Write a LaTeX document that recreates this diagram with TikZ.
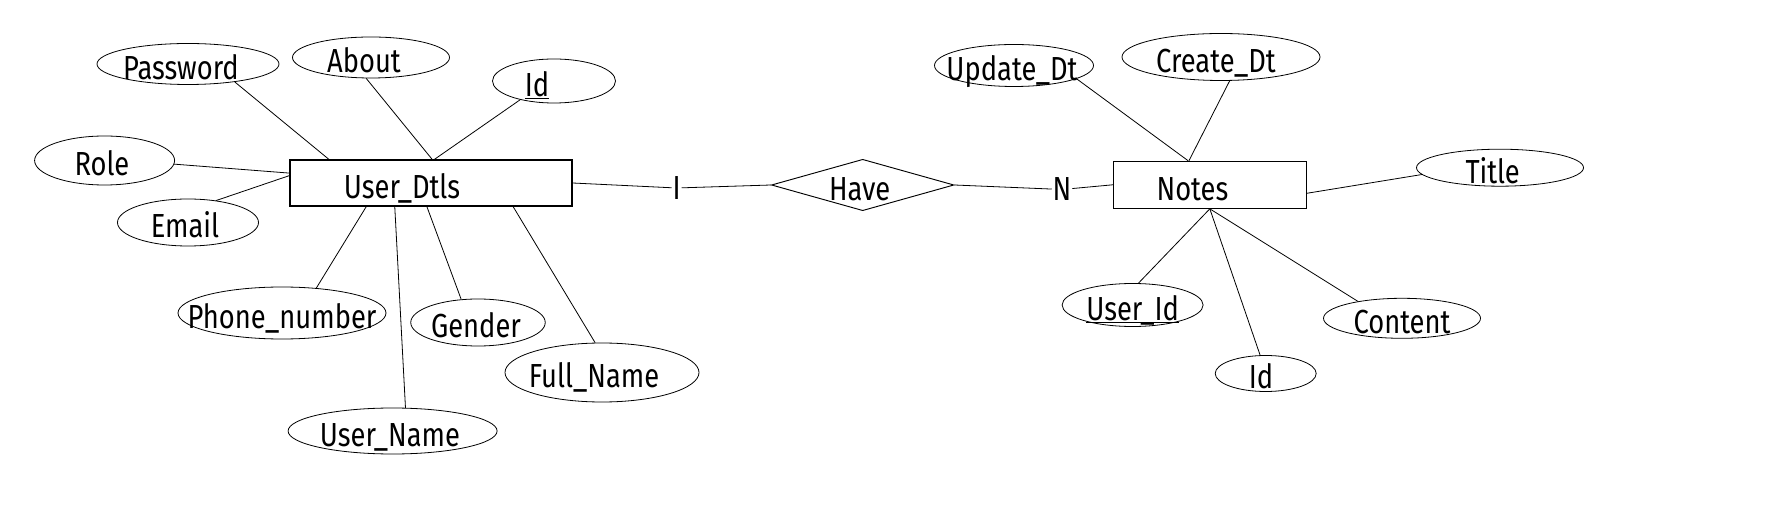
\documentclass[tikz,border=0pt]{standalone}
\usepackage{fontspec}
\setmainfont{Fira Sans}[FakeStretch=0.82]
\usetikzlibrary{shapes.geometric}
\newcommand\tx[2][0]{\makebox[0pt]{\hspace*{#1pt}\raisebox{-3pt}{#2}}}
\newcommand\ulin[1]{\setbox0\hbox{#1}\rlap{\rule[-2pt]{\wd0}{0.7pt}}\box0}
\begin{document}
\begin{tikzpicture}[x=0.75pt,y=-0.75pt,
 every node/.style={font=\fontsize{25}{30}\selectfont, text height=17pt, text depth=0pt},
 att/.style 2 args={ellipse, draw, line width=0.6pt, inner sep=0pt, minimum width=#1*0.75pt, minimum height=#2*0.75pt},
 ent/.style 2 args={rectangle, draw, line width=0.8pt, inner sep=0pt, minimum width=#1*0.75pt, minimum height=#2*0.75pt},
 rel/.style 2 args={diamond, draw, line width=0.7pt, inner sep=0pt, minimum width=#1*0.75pt, minimum height=#2*0.75pt},
 card/.style={inner sep=0.5pt},
 link/.style={line width=0.6pt}]
\path[use as bounding box] (0,0) rectangle (1776,530);
% User entity and attributes
\node[ent={282}{46}] (ud) at (431,183) {\tx[-43.5]{User\_Dtls}};
\node[att={182}{41}] (pw) at (188,64) {\tx[-10.5]{Password}};
\node[att={157}{41}] (ab) at (371,57.5) {\tx[-10.5]{About}};
\node[att={123}{44}] (uid) at (554,81) {\tx[-25.5]{\ulin{Id}}};
\node[att={140}{49}] (ro) at (104.6,160.5) {\tx[-4]{Role}};
\node[att={141}{47}] (em) at (188,222.5) {\tx[-4.5]{Email}};
\node[att={208}{52}] (ph) at (282,313) {\tx{Phone\_number}};
\node[att={134.5}{47}] (ge) at (478,322.5) {\tx[-3]{Gender}};
\node[att={194}{59}] (fn) at (602,372.5) {\tx[-12]{Full\_Name}};
\node[att={209}{46}] (un) at (392.6,431) {\tx[-4]{User\_Name}};
% relationship
\node[card] (one) at (676.6,188) {I};
\node[rel={182.5}{51.4}] (have) at (862.7,185) {\tx[-4.5]{Have}};
\node[card] (many) at (1062,189.5) {N};
% Notes entity and attributes
\node[ent={193}{47}] (nt) at (1209.8,184.8) {\tx[-26]{Notes}};
\node[att={159}{42}] (up) at (1014,65.5) {\tx[-3]{Update\_Dt}};
\node[att={198}{47}] (cr) at (1221,57) {\tx[-7.5]{Create\_Dt}};
\node[att={167}{37}] (ti) at (1500,167.7) {\tx[-11]{Title}};
\node[att={141}{43}] (nuid) at (1132.6,305) {\tx{\ulin{User\_Id}}};
\node[att={101}{36}] (nid) at (1265.7,373.5) {\tx[-7]{Id}};
\node[att={157}{40}] (co) at (1402,318.3) {\tx{Content}};
% connectors
\draw[link] (pw.339.4) -- (ud.167.2);
\draw[link] (ab.257.6) -- (ud.87.6);
\draw[link] (uid.209.7) -- (ud.82.9);
\draw[link] (ro.357.9) -- (ud.176.3);
\draw[link] (em.38) -- (ud.177.1);
\draw[link] (ph.36.7) -- (ud.200.9);
\draw[link] (un.61.7) -- (ud.213.0);
\draw[link] (ge.126.3) -- (ud.260.1);
\draw[link] (fn.103.5) -- (ud.344.3);
\draw[link] (ud.east) -- (one);
\draw[link] (one) -- (have.west);
\draw[link] (have.east) -- (many);
\draw[link] (many) -- (nt.west);
\draw[link] (up.348.8) -- (nt.132.9);
\draw[link] (cr.290.6) -- (nt.131.1);
\draw[link] (ti.185.2) -- (nt.355.6);
\draw[link] (nuid.75.4) -- (nt.south);
\draw[link] (nid.107.7) -- (nt.south);
\draw[link] (co.159.4) -- (nt.south);
\end{tikzpicture}
\end{document}
